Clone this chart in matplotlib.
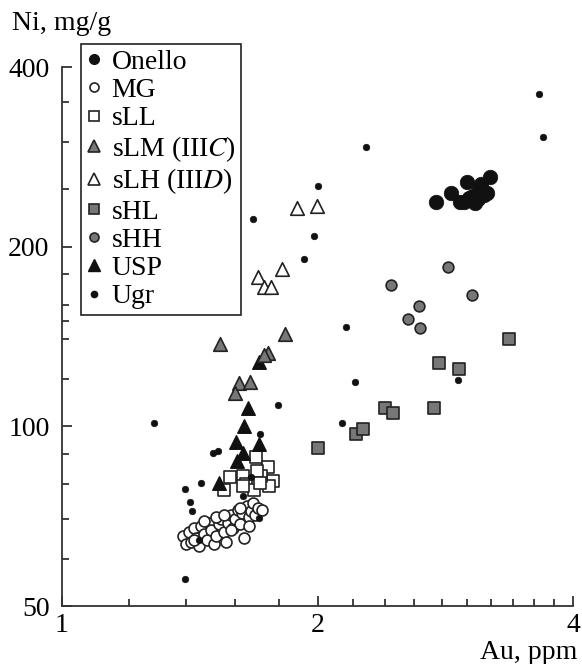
import matplotlib
matplotlib.use("Agg")
import matplotlib.pyplot as plt
from matplotlib.lines import Line2D
from matplotlib.ticker import FixedLocator, NullFormatter

plt.rcParams['font.family'] = ['Liberation Serif', 'DejaVu Serif']
plt.rcParams['mathtext.fontset'] = 'stix'

# ---------------- data (Au ppm, Ni mg/g) ----------------
onello_x = [2.76, 2.87, 3.00, 3.12, 3.19, 2.94, 3.02, 3.07, 3.14, 3.17, 3.09, 3.05, 2.98, 3.10]
onello_y = [238, 246, 257, 255, 262, 238, 241, 237, 244, 246, 240, 243, 238, 250]

mg_x = [1.39, 1.40, 1.41, 1.42, 1.43, 1.44, 1.45, 1.46, 1.47, 1.48, 1.49, 1.50, 1.51, 1.52,
        1.53, 1.54, 1.55, 1.56, 1.57, 1.58, 1.59, 1.60, 1.61, 1.62, 1.63, 1.64, 1.65, 1.66,
        1.67, 1.68, 1.69, 1.70, 1.72, 1.47, 1.43, 1.52, 1.58, 1.62, 1.55, 1.66]
mg_y = [65.5, 63.5, 66.5, 64.0, 67.5, 65.0, 63.0, 68.0, 66.0, 64.5, 69.0, 67.0, 63.5, 65.5,
        68.5, 70.0, 66.5, 64.0, 69.0, 71.0, 67.5, 70.0, 72.5, 68.5, 71.5, 65.0, 73.5, 70.5,
        72.0, 74.5, 71.0, 73.0, 72.5, 69.5, 64.5, 70.5, 67.0, 73.0, 71.0, 68.0]

sll_x = [1.693, 1.749, 1.577, 1.633, 1.646, 1.554, 1.773, 1.753, 1.716, 1.684, 1.696, 1.636, 1.711]
sll_y = [88.9, 85.6, 82.2, 82.7, 80.0, 78.1, 81.1, 79.3, 82.6, 78.1, 84.2, 79.3, 80.3]

slm_x = [1.535, 1.831, 1.750, 1.730, 1.618, 1.665, 1.599]
slm_y = [137.4, 142.8, 132.5, 131.6, 118.1, 118.5, 113.6]

slh_x = [1.893, 1.999, 1.703, 1.731, 1.763, 1.815]
slh_y = [232.4, 234.0, 178.1, 171.3, 171.0, 183.2]

shl_x = [3.366, 2.783, 2.936, 2.402, 2.453, 2.744, 2.220, 2.261, 2.000]
shl_y = [140.0, 127.8, 124.6, 107.5, 105.4, 107.5, 97.1, 98.8, 91.9]

shh_x = [2.852, 2.442, 3.041, 2.634, 2.555, 2.643]
shh_y = [184.7, 172.3, 166.0, 159.2, 151.3, 146.1]

usp_x = [1.708, 1.658, 1.640, 1.602, 1.635, 1.708, 1.607, 1.532]
usp_y = [128.3, 107.2, 100.2, 94.2, 90.1, 93.3, 87.5, 80.3]

ugr_x = [3.651, 3.690, 2.281, 2.001, 1.981, 1.928, 2.163, 2.214, 2.139, 2.925, 1.798, 1.680,
         1.285, 1.396, 1.415, 1.422, 1.459, 1.508, 1.526, 1.711, 1.670, 1.634, 1.706, 1.396, 1.450]
ugr_y = [359.9, 305.6, 293.4, 252.6, 208.6, 190.7, 146.5, 118.5, 101.4, 119.6, 108.4, 222.5,
         101.2, 78.4, 74.8, 72.2, 80.5, 90.3, 90.9, 97.2, 82.2, 76.4, 70.2, 55.4, 64.5]

labels = ["Onello", "MG", "sLL", "sLM (III$\\it{C}$)", "sLH (III$\\it{D}$)", "sHL", "sHH", "USP", "Ugr"]

x_major = [1, 2, 4]
x_minor = [1.2, 1.4, 1.6, 1.8, 2.2, 2.4, 2.6, 2.8, 3.0, 3.2, 3.4, 3.6, 3.8]
y_major = [50, 100, 200, 400]
y_minor = [60, 70, 80, 90, 120, 140, 150, 160, 180, 250, 300, 350]

# ---------------- figure ----------------
W, H = 582, 664
FS = 20
fig = plt.figure(figsize=(W / 100, H / 100), dpi=100)
ax = fig.add_axes([62 / W, 1 - 606 / H, (573 - 62) / W, (606 - 67) / H])
ax.set_xscale('log')
ax.set_yscale('log')
ax.set_xlim(1, 4)
ax.set_ylim(50, 400)

gray = '#777777'
edge = '#222222'
ax.scatter(shl_x, shl_y, marker='s', s=70, facecolor=gray, edgecolor=edge, linewidth=1.2, zorder=3)
ax.scatter(shh_x, shh_y, marker='o', s=60, facecolor=gray, edgecolor=edge, linewidth=1.2, zorder=3)
ax.scatter(onello_x, onello_y, marker='o', s=110, facecolor='#111111', edgecolor='#111111', linewidth=0.5, zorder=3)
ax.scatter(mg_x, mg_y, marker='o', s=62, facecolor='white', edgecolor=edge, linewidth=1.2, zorder=3)
ax.scatter(sll_x, sll_y, marker='s', s=70, facecolor='white', edgecolor=edge, linewidth=1.2, zorder=4)
ax.scatter(usp_x, usp_y, marker='^', s=95, facecolor='#111111', edgecolor='#111111', linewidth=1.0, zorder=4)
ax.scatter(slm_x, slm_y, marker='^', s=95, facecolor=gray, edgecolor=edge, linewidth=1.2, zorder=4)
ax.scatter(slh_x, slh_y, marker='^', s=95, facecolor='white', edgecolor=edge, linewidth=1.2, zorder=4)
ax.scatter(ugr_x, ugr_y, marker='o', s=22, facecolor='#111111', edgecolor='#111111', linewidth=0.5, zorder=5)

# axes styling
for sp in ['top', 'right']:
    ax.spines[sp].set_visible(False)
for sp in ['left', 'bottom']:
    ax.spines[sp].set_color('#333333')
    ax.spines[sp].set_linewidth(1.3)

ax.xaxis.set_major_locator(FixedLocator(x_major))
ax.xaxis.set_minor_locator(FixedLocator(x_minor))
ax.yaxis.set_major_locator(FixedLocator(y_major))
ax.yaxis.set_minor_locator(FixedLocator(y_minor))
ax.set_xticklabels([str(v) for v in x_major])
ax.set_yticklabels([str(v) for v in y_major])
ax.xaxis.set_minor_formatter(NullFormatter())
ax.yaxis.set_minor_formatter(NullFormatter())
ax.tick_params(which='major', direction='in', length=7, width=1.3, color='#333333',
               labelsize=FS, pad=9)
ax.tick_params(axis='x', which='major', pad=5)
ax.tick_params(which='minor', direction='in', length=5, width=1.3, color='#333333')

# axis titles
fig.text(12 / W, 1 - 30 / H, "Ni, mg/g", fontsize=FS, ha='left', va='baseline')
fig.text(577 / W, 1 - 659 / H, "Au, ppm", fontsize=FS, ha='right', va='baseline')

# legend
handles = [
    Line2D([], [], ls='none', marker='o', ms=7, mfc='#111111', mec='#111111'),
    Line2D([], [], ls='none', marker='o', ms=6.5, mfc='white', mec=edge, mew=1.2),
    Line2D([], [], ls='none', marker='s', ms=6.5, mfc='white', mec=edge, mew=1.2),
    Line2D([], [], ls='none', marker='^', ms=8, mfc=gray, mec=edge, mew=1.2),
    Line2D([], [], ls='none', marker='^', ms=8, mfc='white', mec=edge, mew=1.2),
    Line2D([], [], ls='none', marker='s', ms=6.5, mfc=gray, mec=edge, mew=1.2),
    Line2D([], [], ls='none', marker='o', ms=6.5, mfc=gray, mec=edge, mew=1.2),
    Line2D([], [], ls='none', marker='^', ms=8, mfc='#111111', mec='#111111'),
    Line2D([], [], ls='none', marker='o', ms=4.5, mfc='#111111', mec='#111111'),
]
leg = fig.legend(handles, labels, loc='upper left', bbox_to_anchor=(81 / W, 1 - 44 / H),
                 bbox_transform=fig.transFigure, fontsize=FS, frameon=True, fancybox=False,
                 edgecolor='#222222', framealpha=1, borderaxespad=0, borderpad=0.2,
                 labelspacing=0.1, handlelength=0.55, handletextpad=0.35)
leg.get_frame().set_linewidth(1.2)

fig.savefig('out.png', dpi=100)
